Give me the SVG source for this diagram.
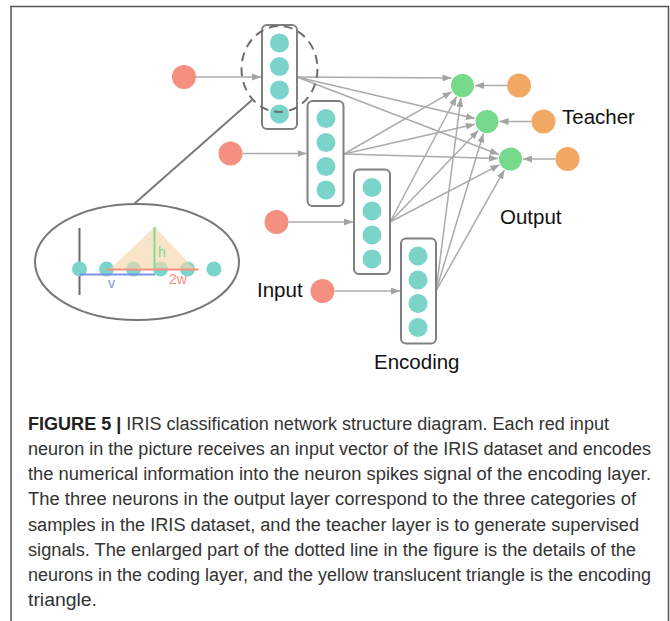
<svg xmlns="http://www.w3.org/2000/svg" width="670" height="621" viewBox="0 0 670 621">
<style>
.box{fill:#fff;stroke:#808080;stroke-width:2}
.enc{fill:#7bd4ca}
.inp{fill:#f58f80}
.out{fill:#76d98b}
.tch{fill:#f0a862}
.conn line{stroke:#ababab;stroke-width:1.5;marker-end:url(#ah)}
.lbl{font-family:"Liberation Sans",Arial,sans-serif;font-size:20.5px;fill:#111}
.cap{font-family:"Liberation Sans",Arial,sans-serif;font-size:18px;fill:#333}
.dl{font-family:"Liberation Sans",Arial,sans-serif;font-size:14px}
</style>
<defs>
<marker id="ah" markerUnits="userSpaceOnUse" markerWidth="9" markerHeight="7" refX="9" refY="3.5" orient="auto">
<path d="M0,0 L9,3.5 L0,7 z" fill="#a3a3a3"/>
</marker>
</defs>
<rect width="670" height="621" fill="#fff"/>
<path d="M11,621 L11,6.5 L668.5,6.5 L668.5,621" fill="none" stroke="#555" stroke-width="1.5"/>

<g class="conn" id="connectors">
<line x1="196" y1="77" x2="261" y2="77"/>
<line x1="242.5" y1="153.5" x2="306.5" y2="153.5"/>
<line x1="288.5" y1="222" x2="353" y2="222"/>
<line x1="334.5" y1="291" x2="400" y2="291"/>
<line x1="297" y1="77" x2="451.5" y2="78"/>
<line x1="297" y1="77" x2="474.8" y2="118.6"/>
<line x1="297" y1="77" x2="498.8" y2="154.5"/>
<line x1="344" y1="154" x2="451.7" y2="91.8"/>
<line x1="344" y1="154" x2="474.8" y2="124.3"/>
<line x1="344" y1="154" x2="498" y2="158.6"/>
<line x1="390" y1="222" x2="456.6" y2="96.5"/>
<line x1="390" y1="222" x2="478.3" y2="130.5"/>
<line x1="390" y1="222" x2="499.4" y2="164.8"/>
<line x1="436" y1="291" x2="460.9" y2="97.9"/>
<line x1="436" y1="291" x2="483.4" y2="133.5"/>
<line x1="436" y1="291" x2="504.4" y2="169.9"/>
<line x1="507" y1="85.5" x2="475" y2="85.5"/>
<line x1="531.5" y1="121.5" x2="499.5" y2="121.5"/>
<line x1="555.5" y1="159" x2="523" y2="159"/>
</g>

<g id="input1"><circle class="inp" cx="184" cy="77" r="12"/></g>
<g id="input2"><circle class="inp" cx="230.5" cy="153.5" r="12"/></g>
<g id="input3"><circle class="inp" cx="276.5" cy="222" r="12"/></g>
<g id="input4"><circle class="inp" cx="322.5" cy="291" r="12"/></g>

<g id="enc1">
<rect class="box" x="262" y="25" width="35" height="104" rx="5"/>
<circle class="enc" cx="279.5" cy="43" r="9.5"/>
<circle class="enc" cx="279.5" cy="66.5" r="9.5"/>
<circle class="enc" cx="279.5" cy="90" r="9.5"/>
<circle class="enc" cx="279.5" cy="114" r="9.5"/>
</g>
<g id="enc2">
<rect class="box" x="307.5" y="101" width="36" height="105" rx="5"/>
<circle class="enc" cx="326" cy="118.5" r="9.5"/>
<circle class="enc" cx="326" cy="142.5" r="9.5"/>
<circle class="enc" cx="326" cy="166.5" r="9.5"/>
<circle class="enc" cx="326" cy="190" r="9.5"/>
</g>
<g id="enc3">
<rect class="box" x="354" y="169.5" width="36" height="104.5" rx="5"/>
<circle class="enc" cx="372" cy="187.5" r="9.5"/>
<circle class="enc" cx="372" cy="211" r="9.5"/>
<circle class="enc" cx="372" cy="235" r="9.5"/>
<circle class="enc" cx="372" cy="259" r="9.5"/>
</g>
<g id="enc4">
<rect class="box" x="401" y="238.5" width="35" height="105" rx="5"/>
<circle class="enc" cx="418" cy="256" r="9.5"/>
<circle class="enc" cx="418" cy="280" r="9.5"/>
<circle class="enc" cx="418" cy="303.5" r="9.5"/>
<circle class="enc" cx="418" cy="327.5" r="9.5"/>
</g>

<g id="zoom-mark">
<ellipse cx="279.5" cy="69" rx="38" ry="43" fill="none" stroke="#6e6e6e" stroke-width="2" stroke-dasharray="9 6"/>
<line x1="252" y1="100" x2="134" y2="204" stroke="#7a7a7a" stroke-width="2"/>
</g>

<g id="out1"><circle class="out" cx="462.5" cy="85.5" r="11.5"/></g>
<g id="out2"><circle class="out" cx="487" cy="121.5" r="11.5"/></g>
<g id="out3"><circle class="out" cx="510.5" cy="159" r="11.5"/></g>
<g id="teacher1"><circle class="tch" cx="519" cy="85.5" r="12"/></g>
<g id="teacher2"><circle class="tch" cx="543.5" cy="121.5" r="12"/></g>
<g id="teacher3"><circle class="tch" cx="567.5" cy="159" r="12"/></g>

<g id="labels">
<text class="lbl" x="562" y="123.5">Teacher</text>
<text class="lbl" x="500" y="224">Output</text>
<text class="lbl" x="257" y="297">Input</text>
<text class="lbl" x="374" y="368.5">Encoding</text>
</g>

<g id="detail">
<ellipse cx="137" cy="262" rx="102" ry="58" fill="#fff" stroke="#777" stroke-width="2"/>
<line x1="79.5" y1="228" x2="79.5" y2="295" stroke="#6a6a6a" stroke-width="2"/>
<circle class="enc" cx="79.5" cy="269" r="7.5"/>
<circle class="enc" cx="106.5" cy="269" r="7.5"/>
<circle class="enc" cx="133.5" cy="269" r="7.5"/>
<circle class="enc" cx="160.5" cy="269" r="7.5"/>
<circle class="enc" cx="187.5" cy="269" r="7.5"/>
<circle class="enc" cx="214" cy="269" r="7.5"/>
<polygon points="110,269 154.5,227 195,269" fill="#f4d7ac" fill-opacity="0.65"/>
<line x1="154.5" y1="227" x2="154.5" y2="269" stroke="#7fdc8f" stroke-width="2"/>
<line x1="106" y1="269.5" x2="198.5" y2="269.5" stroke="#f5907f" stroke-width="2"/>
<line x1="79.5" y1="274.5" x2="155" y2="274.5" stroke="#7b93e6" stroke-width="2"/>
<text class="dl" x="158" y="257" fill="#7fdc8f">h</text>
<text class="dl" x="108" y="288" fill="#7b93e6">v</text>
<text class="dl" x="169" y="284" fill="#f5907f">2w</text>
</g>

<g id="caption">
<text class="cap" x="28" y="430" textLength="581" lengthAdjust="spacingAndGlyphs"><tspan font-weight="bold" fill="#222">FIGURE 5 |</tspan> IRIS classification network structure diagram. Each red input</text>
<text class="cap" x="28" y="455" textLength="623" lengthAdjust="spacingAndGlyphs">neuron in the picture receives an input vector of the IRIS dataset and encodes</text>
<text class="cap" x="28" y="480" textLength="623" lengthAdjust="spacingAndGlyphs">the numerical information into the neuron spikes signal of the encoding layer.</text>
<text class="cap" x="28" y="505" textLength="608" lengthAdjust="spacingAndGlyphs">The three neurons in the output layer correspond to the three categories of</text>
<text class="cap" x="28" y="530.5" textLength="611" lengthAdjust="spacingAndGlyphs">samples in the IRIS dataset, and the teacher layer is to generate supervised</text>
<text class="cap" x="28" y="555.5" textLength="608" lengthAdjust="spacingAndGlyphs">signals. The enlarged part of the dotted line in the figure is the details of the</text>
<text class="cap" x="28" y="580.5" textLength="623" lengthAdjust="spacingAndGlyphs">neurons in the coding layer, and the yellow translucent triangle is the encoding</text>
<text class="cap" x="28" y="606" textLength="69" lengthAdjust="spacingAndGlyphs">triangle.</text>
</g>
</svg>
